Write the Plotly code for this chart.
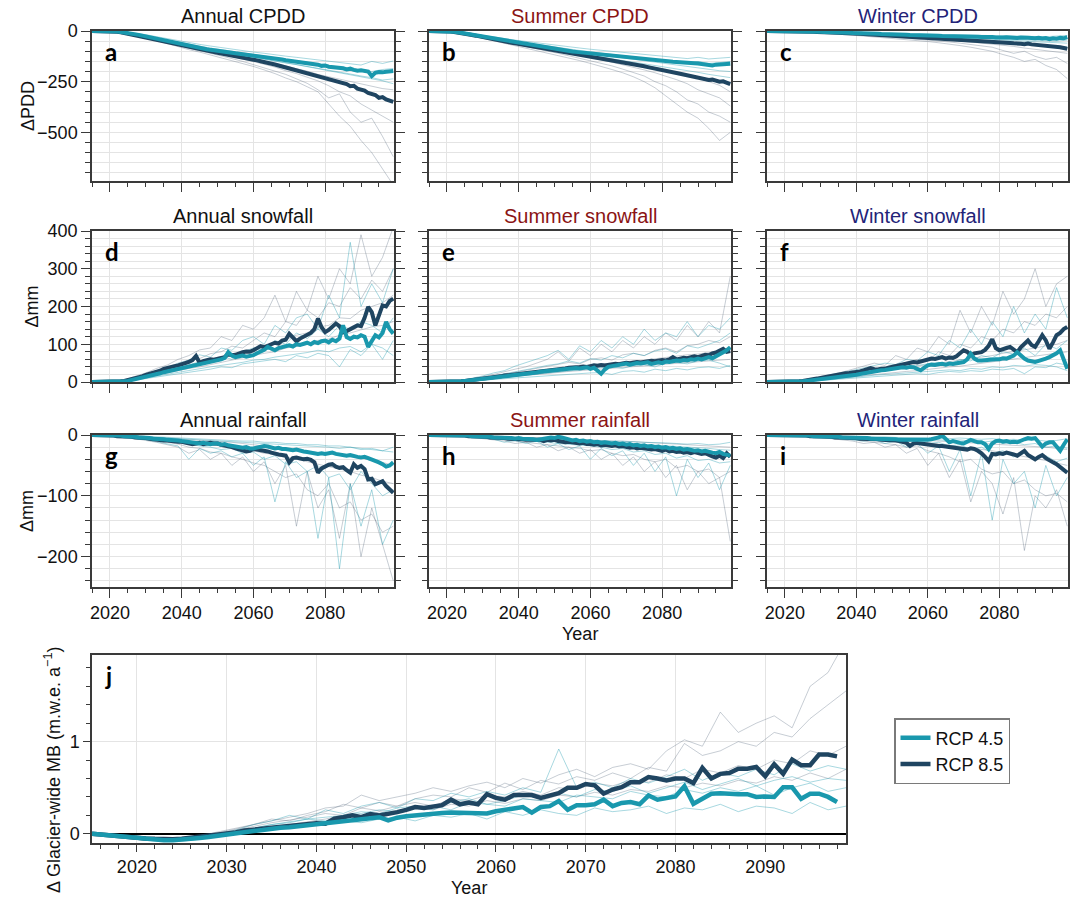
import plotly.graph_objects as go

# ---------------------------------------------------------------------------
# Time axes
# ---------------------------------------------------------------------------
YEARS = list(range(2015, 2100))             # ensemble means, panels a-i
MEMBER_YEARS = list(range(2015, 2100, 3))   # individual model runs, panels a-i
MB_YEARS = list(range(2015, 2099))          # ensemble means, panel j
MB_MEMBER_YEARS = list(range(2015, 2100, 2))  # individual model runs, panel j

# ---------------------------------------------------------------------------
# a: Annual CPDD
# ---------------------------------------------------------------------------
annual_cpdd_rcp45 = [
    0, 0, 0, 0, 0, -1, -2, -3, -5, -7,
    -10, -13, -16, -19, -23, -27, -31, -35, -39, -43,
    -47, -51, -55, -59, -63, -67, -71, -74, -78, -81,
    -84, -87, -90, -93, -96, -98, -101, -103, -106, -108,
    -110, -112, -114, -117, -119, -121, -124, -126, -129, -131,
    -134, -136, -139, -141, -144, -146, -149, -151, -153, -156,
    -158, -161, -163, -166, -172, -170, -176, -178, -182, -180,
    -184, -190, -186, -192, -196, -194, -198, -200, -222, -206,
    -202, -204, -201, -199, -197]
annual_cpdd_rcp85 = [
    0, 0, 0, 0, 0, -1, -2, -4, -6, -9,
    -12, -16, -20, -24, -28, -32, -36, -40, -44, -49,
    -53, -57, -61, -65, -69, -73, -77, -81, -85, -88,
    -91, -95, -98, -101, -104, -107, -110, -113, -116, -119,
    -122, -126, -129, -133, -137, -141, -145, -149, -152, -156,
    -160, -165, -170, -175, -180, -185, -189, -193, -197, -202,
    -207, -212, -217, -222, -226, -231, -236, -241, -247, -252,
    -258, -262, -272, -270, -284, -290, -294, -306, -312, -316,
    -330, -326, -338, -344, -350]
annual_cpdd_rcp45_members = [
    [0, 0, -2, -8, -17, -28, -40, -52, -64, -74, -84, -94, -102, -112, -120,
     -130, -140, -148, -158, -166, -176, -186, -194, -206, -214, -224, -236, -246, -260],
    [0, 0, -1, -5, -12, -22, -33, -44, -55, -65, -75, -84, -92, -100, -108,
     -116, -124, -132, -140, -146, -156, -162, -170, -178, -184, -192, -200, -190, -185],
    [0, 0, -1, -4, -10, -18, -28, -38, -48, -57, -66, -74, -82, -90, -96,
     -104, -110, -118, -124, -130, -136, -142, -150, -156, -162, -168, -150, -160, -148],
    [0, 0, -2, -7, -15, -26, -38, -50, -62, -72, -82, -92, -101, -110, -119,
     -128, -137, -146, -156, -164, -174, -184, -192, -202, -212, -222, -230, -242, -236],
]
annual_cpdd_rcp85_members = [
    [0, 0, -3, -10, -22, -35, -48, -62, -78, -92, -104, -118, -130, -146, -160,
     -175, -192, -210, -232, -250, -275, -300, -360, -420, -470, -540, -600, -680, -760],
    [0, 0, -2, -8, -18, -30, -44, -58, -70, -84, -98, -110, -122, -136, -150,
     -166, -180, -198, -214, -236, -258, -290, -330, -310, -400, -450, -430, -520, -620],
    [0, 0, -2, -7, -16, -27, -40, -52, -64, -76, -88, -99, -110, -124, -138,
     -150, -164, -178, -196, -210, -228, -246, -270, -300, -320, -360, -390, -420, -450],
    [0, 0, -1, -6, -14, -24, -36, -48, -60, -72, -82, -93, -104, -115, -126,
     -138, -150, -160, -172, -186, -198, -214, -226, -238, -250, -262, -272, -284, -290],
]

# ---------------------------------------------------------------------------
# b: Summer CPDD
# ---------------------------------------------------------------------------
summer_cpdd_rcp45 = [
    0, 0, 0, 0, 0, -1, -2, -4, -6, -9,
    -12, -15, -18, -21, -25, -28, -32, -35, -39, -42,
    -45, -48, -52, -55, -58, -61, -64, -67, -70, -73,
    -76, -79, -82, -84, -87, -89, -92, -94, -96, -99,
    -101, -103, -105, -107, -109, -111, -113, -115, -117, -119,
    -121, -123, -125, -127, -129, -131, -133, -135, -137, -138,
    -140, -141, -143, -145, -146, -148, -149, -151, -152, -153,
    -155, -156, -157, -158, -159, -160, -162, -163, -165, -170,
    -166, -165, -167, -164, -161]
summer_cpdd_rcp85 = [
    0, 0, 0, 0, 0, -1, -3, -5, -7, -10,
    -13, -16, -20, -23, -27, -30, -34, -37, -41, -44,
    -48, -51, -54, -58, -61, -64, -67, -70, -73, -76,
    -79, -82, -85, -88, -91, -94, -97, -100, -103, -106,
    -109, -112, -115, -118, -121, -124, -127, -131, -134, -137,
    -140, -143, -147, -150, -153, -157, -160, -164, -167, -171,
    -174, -178, -181, -185, -188, -192, -196, -199, -203, -207,
    -211, -215, -218, -222, -226, -230, -233, -237, -242, -240,
    -245, -250, -248, -255, -262]
summer_cpdd_rcp45_members = [
    [0, 0, -3, -9, -18, -28, -38, -48, -58, -68, -77, -86, -95, -103, -112,
     -120, -128, -137, -146, -154, -162, -170, -180, -188, -196, -204, -214, -222, -230],
    [0, 0, -2, -7, -15, -24, -33, -42, -51, -59, -67, -75, -82, -89, -96,
     -103, -110, -116, -122, -128, -134, -140, -146, -152, -158, -150, -160, -156, -150],
    [0, 0, -2, -6, -13, -21, -29, -37, -45, -52, -59, -66, -72, -78, -84,
     -90, -95, -100, -106, -111, -116, -121, -126, -131, -136, -130, -138, -134, -130],
    [0, 0, -3, -8, -17, -26, -36, -45, -54, -63, -72, -80, -88, -96, -104,
     -111, -119, -126, -134, -140, -148, -155, -162, -168, -176, -184, -190, -196, -200],
]
summer_cpdd_rcp85_members = [
    [0, 0, -4, -12, -24, -36, -48, -60, -72, -84, -96, -108, -120, -132, -146,
     -160, -174, -190, -206, -226, -250, -280, -320, -360, -400, -430, -480, -540, -500],
    [0, 0, -3, -10, -20, -32, -43, -54, -66, -77, -88, -99, -110, -122, -134,
     -146, -160, -172, -188, -204, -222, -250, -270, -300, -340, -360, -400, -420, -450],
    [0, 0, -3, -9, -18, -28, -38, -49, -59, -69, -79, -89, -99, -110, -120,
     -131, -142, -154, -166, -180, -192, -206, -222, -240, -260, -290, -310, -330, -370],
    [0, 0, -2, -8, -16, -26, -35, -45, -54, -64, -73, -82, -91, -100, -109,
     -118, -128, -138, -148, -158, -168, -180, -192, -206, -220, -232, -250, -268, -300],
]

# ---------------------------------------------------------------------------
# c: Winter CPDD
# ---------------------------------------------------------------------------
winter_cpdd_rcp45 = [
    0, 0, 0, 0, 0, 0, 0, 0, -1, -1,
    -1, -2, -2, -3, -3, -4, -5, -5, -6, -6,
    -7, -8, -8, -9, -10, -10, -11, -12, -12, -13,
    -13, -14, -15, -15, -16, -17, -17, -18, -18, -19,
    -20, -20, -21, -22, -22, -23, -23, -24, -23, -25,
    -25, -26, -25, -27, -27, -26, -28, -27, -29, -28,
    -30, -29, -31, -30, -32, -30, -32, -31, -33, -32,
    -34, -32, -35, -33, -34, -36, -33, -37, -35, -40,
    -36, -38, -34, -36, -30]
winter_cpdd_rcp85 = [
    0, 0, 0, 0, 0, 0, 0, -1, -1, -2,
    -2, -3, -3, -4, -5, -5, -6, -7, -7, -8,
    -9, -10, -10, -11, -12, -13, -14, -15, -16, -17,
    -18, -19, -20, -21, -22, -23, -24, -25, -26, -27,
    -28, -30, -29, -31, -33, -34, -33, -36, -37, -38,
    -40, -39, -42, -43, -42, -45, -46, -44, -48, -49,
    -50, -49, -52, -54, -52, -55, -57, -56, -59, -61,
    -60, -63, -65, -62, -66, -68, -67, -70, -72, -74,
    -73, -76, -80, -84, -88]
winter_cpdd_rcp45_members = [
    [0, 0, -1, -2, -4, -7, -10, -13, -16, -19, -22, -25, -28, -31, -34,
     -37, -40, -43, -46, -49, -52, -55, -58, -62, -65, -68, -72, -75, -78],
    [0, 0, 0, -1, -3, -5, -7, -9, -11, -13, -15, -17, -19, -21, -23,
     -25, -27, -29, -31, -33, -35, -37, -39, -41, -44, -46, -48, -50, -45],
    [0, 0, 0, -1, -2, -3, -4, -6, -7, -9, -10, -11, -13, -14, -15,
     -16, -18, -19, -20, -21, -22, -23, -25, -24, -26, -27, -28, -25, -22],
    [0, 0, -1, -2, -3, -5, -7, -9, -11, -14, -16, -18, -20, -23, -25,
     -27, -30, -32, -35, -37, -40, -42, -45, -47, -50, -53, -56, -58, -60],
]
winter_cpdd_rcp85_members = [
    [0, 0, -1, -3, -6, -9, -13, -17, -21, -25, -29, -33, -37, -42, -47,
     -52, -58, -64, -72, -80, -90, -100, -116, -130, -150, -140, -170, -190, -235],
    [0, 0, -1, -2, -5, -8, -11, -14, -18, -21, -25, -28, -32, -36, -40,
     -44, -49, -54, -60, -66, -72, -80, -96, -110, -100, -125, -140, -130, -160],
    [0, 0, 0, -2, -4, -6, -9, -12, -15, -18, -21, -24, -27, -30, -34,
     -37, -41, -45, -49, -54, -58, -64, -70, -76, -84, -90, -96, -104, -110],
    [0, 0, 0, -1, -3, -5, -7, -9, -12, -14, -17, -19, -22, -25, -27,
     -30, -33, -36, -39, -42, -46, -49, -53, -57, -61, -65, -69, -74, -80],
]

# ---------------------------------------------------------------------------
# d: Annual snowfall
# ---------------------------------------------------------------------------
annual_snow_rcp45 = [
    0, 0, 0, 0, 0, 0, 0, 1, 1, 2,
    3, 5, 7, 9, 11, 13, 16, 18, 21, 23,
    26, 28, 30, 33, 35, 37, 40, 42, 44, 46,
    48, 50, 52, 54, 56, 57, 60, 64, 79, 70,
    66, 68, 70, 67, 69, 71, 76, 80, 85, 93,
    88, 84, 90, 92, 95, 97, 94, 100, 98, 102,
    104, 100, 106, 103, 108, 110, 105, 112, 108, 115,
    150, 119, 114, 120, 118, 124, 120, 93, 110, 124,
    118, 130, 159, 140, 128]
annual_snow_rcp85 = [
    0, 0, 0, 0, 0, 0, 1, 1, 2, 3,
    5, 7, 9, 12, 15, 19, 22, 24, 26, 30,
    35, 38, 40, 42, 44, 46, 50, 53, 58, 69,
    51, 55, 57, 60, 59, 62, 64, 66, 74, 71,
    72, 76, 79, 81, 80, 84, 90, 95, 92, 97,
    100, 104, 102, 110, 112, 128, 118, 108, 115, 120,
    124, 130, 140, 168, 145, 132, 138, 145, 155, 148,
    132, 135, 140, 145, 150, 148, 170, 199, 185, 150,
    180, 203, 200, 215, 221]
annual_snow_rcp45_members = [
    [0, 0, 2, 5, 12, 20, 30, 38, 50, 58, 72, 66, 90, 84, 110,
     120, 100, 150, 130, 170, 180, 140, 230, 170, 370, 200, 260, 210, 300],
    [0, 0, 1, 4, 9, 16, 24, 30, 38, 46, 52, 60, 68, 60, 80,
     90, 84, 110, 100, 130, 115, 140, 120, 150, 140, 160, 150, 130, 170],
    [0, 0, 1, 3, 6, 11, 16, 22, 27, 32, 36, 40, 44, 48, 52,
     58, 60, 66, 70, 74, 78, 84, 80, 90, 94, 80, 100, 90, 70],
    [0, 0, 1, 2, 5, 9, 14, 18, 22, 26, 30, 34, 40, 38, 48,
     52, 56, 60, 54, 70, 64, 76, 70, 40, 86, 70, 100, 60, 110],
]
annual_snow_rcp85_members = [
    [0, 0, 2, 6, 14, 24, 36, 45, 60, 70, 85, 90, 120, 110, 150,
     140, 170, 230, 160, 240, 190, 280, 220, 300, 260, 390, 280, 330, 410],
    [0, 0, 1, 4, 10, 18, 28, 36, 44, 58, 62, 75, 80, 95, 90,
     110, 130, 120, 160, 150, 190, 170, 210, 200, 250, 220, 270, 240, 300],
    [0, 0, 1, 3, 8, 15, 22, 30, 38, 44, 52, 58, 66, 72, 80,
     86, 96, 104, 112, 124, 130, 146, 150, 170, 168, 190, 200, 210, 230],
    [0, 0, 1, 3, 7, 12, 18, 24, 30, 36, 40, 46, 52, 58, 62,
     70, 76, 80, 90, 94, 100, 110, 114, 124, 130, 138, 146, 150, 160],
]

# ---------------------------------------------------------------------------
# e: Summer snowfall
# ---------------------------------------------------------------------------
summer_snow_rcp45 = [
    0, 0, 0, 0, 0, 0, 0, 0, 1, 2,
    3, 4, 5, 6, 7, 8, 10, 11, 12, 13,
    14, 15, 16, 17, 18, 19, 20, 22, 23, 24,
    25, 27, 28, 29, 30, 31, 33, 32, 34, 35,
    36, 37, 36, 38, 39, 35, 38, 30, 22, 33,
    40, 42, 44, 45, 47, 49, 46, 48, 50, 49,
    50, 52, 48, 51, 52, 50, 54, 53, 55, 57,
    56, 58, 57, 60, 59, 62, 60, 64, 66, 63,
    68, 72, 78, 84, 92]
summer_snow_rcp85 = [
    0, 0, 0, 0, 0, 0, 0, 0, 1, 2,
    3, 4, 5, 6, 8, 9, 10, 12, 13, 14,
    15, 17, 18, 19, 20, 21, 22, 24, 25, 26,
    27, 28, 30, 31, 32, 33, 34, 35, 36, 38,
    38, 39, 40, 41, 40, 42, 44, 43, 45, 44,
    46, 47, 48, 47, 50, 51, 50, 52, 53, 52,
    54, 55, 56, 55, 57, 58, 57, 60, 66, 60,
    62, 64, 63, 66, 68, 66, 70, 72, 71, 76,
    78, 84, 88, 80, 82]
summer_snow_rcp45_members = [
    [0, 0, 1, 4, 9, 16, 24, 30, 42, 52, 60, 70, 84, 60, 96,
     80, 110, 90, 120, 100, 140, 110, 130, 120, 160, 120, 150, 140, 170],
    [0, 0, 1, 3, 6, 11, 16, 22, 26, 32, 38, 44, 48, 56, 50,
     62, 58, 70, 64, 76, 70, 82, 88, 76, 96, 90, 100, 110, 130],
    [0, 0, 0, 2, 4, 7, 10, 13, 16, 19, 22, 25, 28, 30, 33,
     35, 38, 40, 36, 44, 46, 40, 50, 52, 48, 56, 58, 50, 40],
    [0, 0, 0, 1, 3, 5, 7, 9, 11, 13, 15, 17, 19, 20, 22,
     24, 25, 20, 28, 30, 26, 34, 30, 36, 32, 38, 40, 36, 44],
]
summer_snow_rcp85_members = [
    [0, 0, 1, 4, 8, 14, 20, 26, 34, 40, 50, 60, 80, 55, 90,
     70, 100, 80, 110, 90, 120, 100, 130, 110, 150, 120, 160, 130, 280],
    [0, 0, 1, 3, 6, 10, 15, 20, 25, 30, 36, 40, 46, 52, 48,
     60, 64, 58, 72, 76, 70, 84, 90, 80, 96, 100, 110, 104, 120],
    [0, 0, 1, 2, 5, 8, 12, 16, 20, 24, 28, 32, 34, 38, 40,
     44, 48, 50, 54, 56, 58, 62, 64, 68, 72, 74, 78, 82, 86],
    [0, 0, 0, 2, 4, 6, 9, 12, 15, 18, 20, 22, 25, 28, 30,
     32, 34, 36, 38, 40, 42, 44, 46, 48, 50, 52, 54, 56, 60],
]

# ---------------------------------------------------------------------------
# f: Winter snowfall
# ---------------------------------------------------------------------------
winter_snow_rcp45 = [
    0, 0, 0, 0, 0, 0, 0, 0, 1, 1,
    2, 3, 4, 5, 6, 8, 9, 10, 12, 13,
    14, 15, 16, 17, 18, 19, 21, 23, 24, 26,
    27, 29, 31, 32, 34, 35, 37, 38, 39, 38,
    40, 39, 35, 31, 38, 44, 46, 45, 47, 48,
    46, 49, 48, 50, 52, 53, 60, 75, 62, 57,
    57, 58, 60, 59, 60, 60, 63, 62, 66, 70,
    79, 70, 62, 57, 55, 53, 56, 58, 62, 66,
    71, 76, 84, 60, 35]
winter_snow_rcp85 = [
    0, 0, 0, 0, 0, 0, 0, 1, 1, 2,
    3, 4, 5, 7, 9, 11, 13, 15, 17, 19,
    21, 22, 23, 24, 25, 26, 28, 31, 33, 37,
    34, 33, 35, 35, 38, 40, 42, 44, 46, 48,
    51, 53, 52, 55, 58, 60, 62, 61, 63, 66,
    62, 65, 64, 68, 76, 84, 80, 71, 76, 78,
    79, 85, 96, 113, 90, 84, 88, 90, 93, 86,
    79, 92, 100, 110, 98, 93, 108, 124, 110, 88,
    105, 124, 130, 140, 146]
winter_snow_rcp45_members = [
    [0, 0, 1, 3, 7, 12, 18, 24, 30, 36, 42, 50, 46, 60, 56,
     80, 70, 110, 90, 140, 100, 160, 120, 200, 130, 180, 140, 250, 170],
    [0, 0, 0, 2, 5, 9, 13, 17, 21, 25, 29, 33, 38, 36, 44,
     48, 52, 46, 60, 56, 70, 64, 80, 74, 90, 70, 100, 88, 110],
    [0, 0, 0, 1, 3, 5, 8, 10, 13, 15, 18, 20, 22, 24, 26,
     28, 30, 32, 30, 36, 34, 40, 38, 44, 42, 46, 44, 40, 30],
    [0, 0, 0, 1, 2, 4, 6, 8, 10, 12, 14, 16, 18, 20, 22,
     20, 25, 28, 26, 30, 28, 34, 32, 36, 22, 40, 38, 50, 45],
]
winter_snow_rcp85_members = [
    [0, 0, 1, 3, 8, 14, 20, 26, 34, 40, 50, 44, 70, 60, 90,
     80, 120, 100, 190, 130, 200, 150, 240, 180, 220, 300, 200, 260, 280],
    [0, 0, 1, 2, 6, 10, 15, 20, 24, 30, 34, 40, 46, 52, 60,
     56, 80, 70, 100, 90, 120, 110, 140, 130, 160, 150, 180, 170, 200],
    [0, 0, 0, 2, 4, 7, 11, 15, 18, 22, 26, 30, 33, 36, 40,
     44, 48, 52, 56, 60, 66, 70, 76, 80, 86, 90, 96, 100, 110],
    [0, 0, 0, 1, 3, 5, 8, 11, 14, 17, 20, 22, 25, 28, 30,
     34, 36, 40, 42, 46, 50, 54, 56, 60, 64, 68, 72, 76, 80],
]

# ---------------------------------------------------------------------------
# g: Annual rainfall
# ---------------------------------------------------------------------------
annual_rain_rcp45 = [
    0, 0, 0, 0, 0, 0, -1, -1, -1, -2,
    -2, -3, -3, -4, -4, -5, -5, -6, -6, -7,
    -7, -8, -8, -9, -9, -10, -11, -12, -12, -13,
    -14, -13, -14, -15, -14, -14, -16, -15, -17, -18,
    -18, -19, -21, -20, -22, -22, -21, -20, -18, -19,
    -20, -22, -21, -23, -23, -24, -25, -24, -26, -27,
    -28, -29, -30, -31, -30, -31, -30, -29, -31, -32,
    -33, -34, -33, -35, -36, -37, -36, -38, -40, -42,
    -45, -48, -52, -50, -45]
annual_rain_rcp85 = [
    0, 0, 0, 0, 0, -1, -1, -2, -2, -3,
    -3, -3, -4, -4, -5, -5, -6, -7, -7, -8,
    -9, -9, -10, -10, -11, -11, -12, -14, -15, -14,
    -13, -15, -14, -13, -14, -14, -16, -17, -18, -20,
    -22, -24, -25, -27, -26, -23, -24, -25, -25, -27,
    -29, -31, -32, -33, -34, -45, -38, -37, -38, -40,
    -39, -41, -45, -62, -55, -51, -49, -48, -52, -54,
    -53, -58, -62, -48, -54, -51, -56, -73, -72, -81,
    -78, -76, -84, -90, -95]
annual_rain_rcp45_members = [
    [0, 0, -1, -3, -5, -8, -11, -14, -18, -40, -22, -30, -26, -36, -30,
     -50, -36, -110, -44, -70, -60, -170, -70, -220, -80, -150, -90, -180, -140],
    [0, 0, -1, -2, -4, -6, -8, -10, -12, -15, -18, -20, -24, -22, -30,
     -28, -40, -34, -48, -44, -60, -50, -70, -64, -90, -60, -80, -100, -90],
    [0, 0, 0, -1, -2, -3, -4, -5, -6, -7, -8, -9, -10, -11, -12,
     -13, -14, -15, -16, -17, -18, -19, -20, -22, -20, -24, -22, -26, -20],
    [0, 0, 0, -1, -1, -2, -3, -4, -5, -6, -6, -7, -8, -9, -10,
     -10, -12, -12, -14, -14, -16, -16, -18, -18, -20, -22, -24, -26, -28],
]
annual_rain_rcp85_members = [
    [0, 0, -1, -3, -6, -8, -12, -16, -20, -30, -24, -40, -30, -50, -36,
     -60, -44, -80, -50, -150, -60, -120, -90, -170, -80, -200, -120, -180, -240],
    [0, 0, -1, -2, -4, -6, -9, -12, -15, -20, -22, -28, -30, -36, -40,
     -46, -50, -60, -70, -64, -90, -100, -80, -120, -110, -140, -130, -160, -150],
    [0, 0, 0, -1, -3, -4, -6, -8, -10, -12, -14, -16, -18, -20, -24,
     -26, -30, -32, -36, -40, -44, -48, -52, -56, -60, -66, -70, -76, -80],
    [0, 0, 0, -1, -2, -3, -4, -5, -6, -7, -8, -10, -11, -12, -14,
     -16, -18, -20, -22, -24, -26, -28, -30, -33, -36, -38, -42, -45, -50],
]

# ---------------------------------------------------------------------------
# h: Summer rainfall
# ---------------------------------------------------------------------------
summer_rain_rcp45 = [
    0, 0, 0, 0, 0, 0, 0, 0, -1, -1,
    -1, -1, -2, -2, -2, -3, -3, -3, -4, -4,
    -4, -5, -5, -5, -6, -5, -6, -6, -7, -7,
    -8, -7, -6, -5, -4, -5, -3, -4, -6, -8,
    -9, -8, -10, -9, -11, -10, -12, -11, -13, -12,
    -13, -14, -13, -15, -14, -16, -15, -17, -16, -18,
    -17, -19, -18, -20, -19, -21, -20, -22, -21, -23,
    -22, -24, -23, -25, -26, -25, -27, -26, -28, -29,
    -30, -28, -31, -32, -34]
summer_rain_rcp85 = [
    0, 0, 0, 0, 0, 0, 0, -1, -1, -1,
    -1, -2, -2, -2, -3, -3, -3, -4, -4, -5,
    -5, -5, -6, -6, -7, -7, -7, -8, -8, -8,
    -9, -8, -10, -8, -9, -8, -10, -11, -12, -11,
    -12, -13, -14, -13, -15, -15, -16, -15, -17, -16,
    -17, -18, -17, -19, -18, -19, -21, -20, -22, -21,
    -22, -23, -24, -23, -25, -26, -24, -27, -26, -28,
    -27, -29, -28, -30, -28, -29, -31, -30, -33, -35,
    -37, -34, -38, -30, -36]
summer_rain_rcp45_members = [
    [0, 0, -1, -2, -3, -5, -7, -12, -9, -14, -10, -20, -14, -24, -18,
     -40, -22, -34, -26, -50, -30, -60, -36, -100, -40, -70, -46, -90, -50],
    [0, 0, 0, -1, -2, -3, -5, -6, -8, -9, -11, -12, -14, -15, -17,
     -18, -20, -24, -22, -28, -26, -32, -30, -38, -34, -42, -40, -46, -44],
    [0, 0, 0, 0, -1, -2, -2, -3, -4, -4, -5, -6, -6, -7, -8,
     -8, -9, -10, -10, -11, -12, -12, -13, -14, -15, -14, -16, -15, -12],
    [0, 0, 0, -1, -1, -2, -3, -3, -4, -5, -6, -6, -7, -8, -9,
     -10, -11, -12, -13, -14, -15, -16, -17, -18, -19, -20, -22, -24, -25],
]
summer_rain_rcp85_members = [
    [0, 0, -1, -2, -4, -6, -8, -10, -14, -12, -20, -16, -26, -20, -30,
     -24, -40, -30, -50, -36, -60, -44, -70, -50, -90, -60, -80, -70, -175],
    [0, 0, 0, -1, -3, -4, -6, -8, -10, -12, -14, -16, -18, -20, -22,
     -26, -24, -30, -34, -32, -40, -44, -40, -54, -50, -60, -56, -70, -60],
    [0, 0, 0, -1, -2, -3, -4, -5, -6, -7, -8, -9, -10, -11, -12,
     -13, -14, -15, -16, -17, -18, -19, -20, -22, -24, -26, -28, -30, -32],
    [0, 0, 0, 0, -1, -1, -2, -3, -3, -4, -5, -5, -6, -7, -7,
     -8, -9, -10, -10, -11, -12, -13, -14, -15, -16, -17, -18, -19, -20],
]

# ---------------------------------------------------------------------------
# i: Winter rainfall
# ---------------------------------------------------------------------------
winter_rain_rcp45 = [
    0, 0, 0, 0, 0, 0, 0, 0, 0, -1,
    -1, -1, -1, -2, -2, -2, -2, -3, -3, -3,
    -3, -4, -4, -4, -4, -4, -5, -5, -5, -6,
    -6, -6, -6, -7, -7, -7, -7, -8, -8, -8,
    -9, -8, -9, -8, -8, -8, -7, -6, -4, -1,
    -6, -12, -10, -12, -13, -14, -11, -8, -10, -12,
    -12, -15, -23, -14, -10, -9, -11, -10, -12, -11,
    -12, -9, -7, -5, -6, -5, -12, -19, -14, -12,
    -12, -18, -26, -16, -7]
winter_rain_rcp85 = [
    0, 0, 0, 0, 0, 0, 0, 0, -1, -1,
    -1, -1, -2, -2, -2, -3, -3, -3, -3, -4,
    -4, -4, -4, -5, -5, -5, -6, -6, -6, -7,
    -7, -7, -8, -8, -8, -9, -9, -10, -11, -13,
    -18, -14, -13, -14, -15, -15, -16, -17, -18, -18,
    -19, -20, -21, -22, -22, -23, -24, -22, -23, -26,
    -30, -36, -43, -31, -32, -30, -31, -29, -30, -32,
    -34, -30, -26, -33, -37, -40, -36, -33, -38, -42,
    -45, -48, -52, -58, -62]
winter_rain_rcp45_members = [
    [0, 0, 0, -1, -2, -3, -4, -6, -8, -10, -8, -14, -10, -20, -14,
     -30, -18, -60, -24, -100, -30, -140, -40, -80, -60, -120, -50, -100, -70],
    [0, 0, 0, -1, -1, -2, -3, -4, -5, -6, -7, -8, -10, -9, -12,
     -14, -12, -18, -16, -24, -20, -30, -26, -36, -30, -40, -34, -44, -38],
    [0, 0, 0, 0, -1, -1, -1, -2, -2, -3, -3, -3, -4, -4, -4,
     -5, -5, -6, -5, -6, -7, -6, -8, -7, -9, -8, -10, -9, -6],
    [0, 0, 0, 0, -1, -1, -2, -2, -3, -3, -4, -4, -5, -6, -6,
     -7, -8, -9, -8, -10, -12, -10, -14, -12, -16, -14, -20, -18, -22],
]
winter_rain_rcp85_members = [
    [0, 0, 0, -1, -2, -4, -6, -8, -10, -14, -12, -20, -16, -30, -22,
     -50, -30, -70, -40, -110, -60, -80, -130, -70, -190, -100, -120, -90, -150],
    [0, 0, 0, -1, -2, -3, -5, -6, -8, -10, -12, -14, -16, -20, -18,
     -26, -30, -36, -44, -40, -56, -64, -60, -80, -74, -90, -100, -96, -110],
    [0, 0, 0, -1, -1, -2, -3, -4, -5, -6, -7, -8, -9, -10, -12,
     -13, -15, -17, -19, -21, -24, -26, -29, -32, -35, -38, -42, -46, -50],
    [0, 0, 0, 0, -1, -1, -2, -2, -3, -3, -4, -5, -5, -6, -7,
     -8, -9, -10, -11, -12, -13, -14, -15, -16, -18, -19, -20, -22, -24],
]

# ---------------------------------------------------------------------------
# j: Glacier-wide mass balance change (m w.e. a-1)
# ---------------------------------------------------------------------------
mb_rcp45 = [
    0.0, -0.01, -0.02, -0.03, -0.04, -0.045, -0.055, -0.065, -0.07, -0.07,
    -0.065, -0.055, -0.045, -0.035, -0.02, -0.01, 0.005, 0.02, 0.03, 0.04,
    0.055, 0.065, 0.07, 0.08, 0.09, 0.1, 0.11, 0.125, 0.14, 0.15,
    0.16, 0.17, 0.18, 0.145, 0.175, 0.19, 0.2, 0.215, 0.22, 0.225,
    0.23, 0.23, 0.23, 0.225, 0.22, 0.245, 0.26, 0.27, 0.29, 0.23,
    0.29, 0.3, 0.355, 0.26, 0.31, 0.31, 0.32, 0.37, 0.3, 0.335,
    0.345, 0.32, 0.415, 0.37, 0.39, 0.405, 0.515, 0.325, 0.38, 0.435,
    0.44, 0.43, 0.43, 0.43, 0.4, 0.405, 0.4, 0.505, 0.505, 0.38,
    0.435, 0.435, 0.4, 0.345]
mb_rcp85 = [
    0.0, -0.01, -0.02, -0.03, -0.035, -0.04, -0.05, -0.055, -0.06, -0.06,
    -0.055, -0.045, -0.035, -0.025, -0.01, 0.0, 0.015, 0.035, 0.045, 0.06,
    0.07, 0.08, 0.095, 0.1, 0.11, 0.115, 0.11, 0.165, 0.18, 0.2,
    0.18, 0.215, 0.2, 0.215, 0.235, 0.26, 0.29, 0.28, 0.3, 0.31,
    0.37, 0.32, 0.34, 0.32, 0.43, 0.39, 0.37, 0.42, 0.42, 0.42,
    0.39, 0.42, 0.44, 0.5, 0.5, 0.54, 0.525, 0.435, 0.48, 0.505,
    0.56, 0.56, 0.615, 0.6, 0.58, 0.6, 0.6, 0.55, 0.715, 0.6,
    0.65, 0.66, 0.705, 0.705, 0.725, 0.625, 0.755, 0.65, 0.805, 0.745,
    0.745, 0.86, 0.86, 0.84]
mb_rcp45_members = [
    [0.0, -0.02, -0.05, -0.07, -0.08, -0.07, -0.04, 0.0, 0.04, 0.1,
     0.14, 0.2, 0.16, 0.26, 0.22, 0.3, 0.34, 0.28, 0.38, 0.36,
     0.44, 0.4, 0.46, 0.42, 0.5, 0.45, 0.92, 0.5, 0.56, 0.5,
     0.6, 0.55, 0.62, 0.7, 0.58, 0.66, 0.62, 0.7, 0.64, 0.76,
     0.68, 0.74, 0.7],
    [0.0, -0.01, -0.04, -0.06, -0.07, -0.06, -0.04, -0.01, 0.02, 0.06,
     0.1, 0.12, 0.16, 0.18, 0.2, 0.22, 0.26, 0.24, 0.28, 0.3,
     0.26, 0.34, 0.32, 0.3, 0.38, 0.36, 0.34, 0.42, 0.4, 0.38,
     0.46, 0.42, 0.4, 0.48, 0.44, 0.5, 0.46, 0.52, 0.42, 0.5,
     0.55, 0.46, 0.5],
    [0.0, -0.02, -0.04, -0.06, -0.08, -0.08, -0.06, -0.03, 0.0, 0.03,
     0.06, 0.08, 0.1, 0.12, 0.14, 0.12, 0.16, 0.18, 0.14, 0.2,
     0.18, 0.22, 0.16, 0.24, 0.2, 0.26, 0.22, 0.2, 0.28, 0.24,
     0.26, 0.3, 0.22, 0.28, 0.26, 0.32, 0.24, 0.3, 0.28, 0.22,
     0.34, 0.26, 0.3],
    [0.0, -0.01, -0.03, -0.05, -0.06, -0.05, -0.03, 0.0, 0.03, 0.06,
     0.1, 0.13, 0.16, 0.14, 0.2, 0.24, 0.22, 0.28, 0.3, 0.26,
     0.34, 0.38, 0.32, 0.36, 0.42, 0.38, 0.44, 0.4, 0.48, 0.46,
     0.52, 0.44, 0.5, 0.56, 0.48, 0.54, 0.6, 0.52, 0.58, 0.62,
     0.56, 0.6, 0.58],
]
mb_rcp85_members = [
    [0.0, -0.02, -0.05, -0.07, -0.08, -0.06, -0.03, 0.01, 0.05, 0.1,
     0.14, 0.18, 0.22, 0.28, 0.3, 0.42, 0.36, 0.4, 0.44, 0.5,
     0.46, 0.52, 0.56, 0.5, 0.6, 0.55, 0.64, 0.7, 0.62, 0.72,
     0.76, 0.7, 0.9, 1.02, 0.95, 1.32, 1.1, 1.2, 1.28, 1.15,
     1.6, 1.75, 2.1],
    [0.0, -0.01, -0.04, -0.06, -0.07, -0.05, -0.02, 0.02, 0.06, 0.1,
     0.16, 0.14, 0.2, 0.24, 0.32, 0.28, 0.34, 0.3, 0.38, 0.42,
     0.4, 0.5, 0.45, 0.55, 0.48, 0.58, 0.54, 0.62, 0.58, 0.66,
     0.6, 0.72, 0.68, 0.98, 0.85, 0.9, 1.0, 0.95, 1.1, 1.05,
     1.25, 1.4, 1.55],
    [0.0, -0.02, -0.04, -0.05, -0.06, -0.05, -0.03, 0.0, 0.04, 0.08,
     0.12, 0.15, 0.18, 0.22, 0.2, 0.28, 0.25, 0.3, 0.34, 0.3,
     0.38, 0.36, 0.42, 0.4, 0.46, 0.42, 0.5, 0.48, 0.55, 0.52,
     0.58, 0.56, 0.64, 0.6, 0.7, 0.66, 0.74, 0.7, 0.8, 0.76,
     0.9, 0.85, 0.95],
    [0.0, -0.01, -0.03, -0.05, -0.06, -0.06, -0.04, -0.02, 0.02, 0.05,
     0.08, 0.1, 0.13, 0.16, 0.2, 0.17, 0.24, 0.22, 0.28, 0.26,
     0.32, 0.3, 0.36, 0.33, 0.38, 0.36, 0.42, 0.4, 0.45, 0.42,
     0.48, 0.46, 0.52, 0.5, 0.55, 0.52, 0.58, 0.55, 0.62, 0.58,
     0.66, 0.6, 0.7],
]

# ---------------------------------------------------------------------------
# Panel titles, letters and label text
# ---------------------------------------------------------------------------
panel_letters = ["a", "b", "c", "d", "e", "f", "g", "h", "i", "j"]
panel_titles = ["Annual CPDD", "Summer CPDD", "Winter CPDD",
                "Annual snowfall", "Summer snowfall", "Winter snowfall",
                "Annual rainfall", "Summer rainfall", "Winter rainfall"]
row_ylabels = ["ΔPDD", "Δmm", "Δmm"]
scenario_names = ["RCP 4.5", "RCP 8.5"]
x_tick_years = [2020, 2040, 2060, 2080]
mb_tick_years = [2020, 2030, 2040, 2050, 2060, 2070, 2080, 2090]

# ---------------------------------------------------------------------------
# Styling
# ---------------------------------------------------------------------------
W, H = 1070, 898
FONT = "Liberation Sans, Arial, Helvetica, sans-serif"
LETTER_FONT = "Lato, Open Sans, sans-serif"
AX = "#3a3a3a"
GRID = "#e4e4e4"
C45 = "#1998ad"
C85 = "#1f4561"
C45_THIN = "rgba(25,152,173,0.38)"
C85_THIN = "rgba(70,90,112,0.30)"
TITLE_COLORS = ["#111111", "#8b1414", "#232378"]

COLS_PX = [(92, 394), (429, 731), (767, 1068)]
ROWS_PX = [(31, 181), (231, 382), (435, 587)]
J_X_PX, J_Y_PX = (92, 846), (655, 843)
Y_SPECS = [([-740, 0], 250, 50), ([0, 400], 100, 20), ([-250, 0], 100, 20)]


def xdom(px):
    return [px[0] / W, px[1] / W]


def ydom(px):
    return [1 - px[1] / H, 1 - px[0] / H]


panel_data = [
    (annual_cpdd_rcp45, annual_cpdd_rcp85, annual_cpdd_rcp45_members, annual_cpdd_rcp85_members),
    (summer_cpdd_rcp45, summer_cpdd_rcp85, summer_cpdd_rcp45_members, summer_cpdd_rcp85_members),
    (winter_cpdd_rcp45, winter_cpdd_rcp85, winter_cpdd_rcp45_members, winter_cpdd_rcp85_members),
    (annual_snow_rcp45, annual_snow_rcp85, annual_snow_rcp45_members, annual_snow_rcp85_members),
    (summer_snow_rcp45, summer_snow_rcp85, summer_snow_rcp45_members, summer_snow_rcp85_members),
    (winter_snow_rcp45, winter_snow_rcp85, winter_snow_rcp45_members, winter_snow_rcp85_members),
    (annual_rain_rcp45, annual_rain_rcp85, annual_rain_rcp45_members, annual_rain_rcp85_members),
    (summer_rain_rcp45, summer_rain_rcp85, summer_rain_rcp45_members, summer_rain_rcp85_members),
    (winter_rain_rcp45, winter_rain_rcp85, winter_rain_rcp45_members, winter_rain_rcp85_members),
]

fig = go.Figure()
layout_axes = {}
annotations = []
tick_font = dict(family=FONT, size=18, color="#111111")


def add_series(xref, yref, years, member_years, m45, m85, mem45, mem85, legend=False, width=4):
    for run in mem85:
        fig.add_trace(go.Scatter(x=member_years, y=run, mode="lines", xaxis=xref, yaxis=yref,
                                 line=dict(color=C85_THIN, width=1), showlegend=False, hoverinfo="skip"))
    for run in mem45:
        fig.add_trace(go.Scatter(x=member_years, y=run, mode="lines", xaxis=xref, yaxis=yref,
                                 line=dict(color=C45_THIN, width=1), showlegend=False, hoverinfo="skip"))
    fig.add_trace(go.Scatter(x=years, y=m85, mode="lines", xaxis=xref, yaxis=yref, name=scenario_names[1],
                             line=dict(color=C85, width=width), showlegend=legend, legendrank=2))
    fig.add_trace(go.Scatter(x=years, y=m45, mode="lines", xaxis=xref, yaxis=yref, name=scenario_names[0],
                             line=dict(color=C45, width=width), showlegend=legend, legendrank=1))


for k, (m45, m85, mem45, mem85) in enumerate(panel_data):
    r, c = divmod(k, 3)
    n = k + 1
    xname = "xaxis" if n == 1 else f"xaxis{n}"
    yname = "yaxis" if n == 1 else f"yaxis{n}"
    xref = "x" if n == 1 else f"x{n}"
    yref = "y" if n == 1 else f"y{n}"
    add_series(xref, yref, YEARS, MEMBER_YEARS, m45, m85, mem45, mem85)

    yr, ymaj, ymin = Y_SPECS[r]
    layout_axes[xname] = dict(
        domain=xdom(COLS_PX[c]), anchor=yref, range=[2015, 2099.2],
        tickmode="array", tickvals=x_tick_years, ticks="outside", ticklen=9, tickwidth=1.3,
        tickcolor=AX, showticklabels=(r == 2), tickfont=tick_font,
        minor=dict(dtick=5, tick0=2015, ticks="outside", ticklen=4, tickwidth=1, tickcolor=AX, showgrid=False),
        showgrid=True, gridcolor=GRID, gridwidth=1, showline=True, linecolor=AX, linewidth=1.5,
        mirror=True, zeroline=False, automargin=False, fixedrange=True)
    layout_axes[yname] = dict(
        domain=ydom(ROWS_PX[r]), anchor=xref, range=yr, dtick=ymaj, tick0=0,
        ticks="outside", ticklen=9, tickwidth=1.3, tickcolor=AX,
        showticklabels=(c == 0), tickfont=tick_font,
        minor=dict(dtick=ymin, tick0=0, ticks="outside", ticklen=5, tickwidth=1, tickcolor=AX,
                   showgrid=True, gridcolor=GRID, gridwidth=1),
        showgrid=True, gridcolor=GRID, gridwidth=1, showline=True, linecolor=AX, linewidth=1.5,
        mirror="allticks", zeroline=False, automargin=False, fixedrange=True)

    cx = (COLS_PX[c][0] + COLS_PX[c][1]) / 2
    annotations.append(dict(text=panel_titles[k], x=cx / W, y=1 - (ROWS_PX[r][0] - 15) / H,
                            xref="paper", yref="paper", xanchor="center", yanchor="middle", showarrow=False,
                            font=dict(family=FONT, size=20, color=TITLE_COLORS[c])))
    annotations.append(dict(text=f"<b>{panel_letters[k]}</b>", x=(COLS_PX[c][0] + 11) / W,
                            y=1 - (ROWS_PX[r][0] + 4) / H, xref="paper", yref="paper",
                            xanchor="left", yanchor="top", showarrow=False,
                            font=dict(family=LETTER_FONT, size=24, color="#000000")))

# Panel j
add_series("x10", "y10", MB_YEARS, MB_MEMBER_YEARS, mb_rcp45, mb_rcp85,
           mb_rcp45_members, mb_rcp85_members, legend=True, width=4.5)
layout_axes["xaxis10"] = dict(
    domain=xdom(J_X_PX), anchor="y10", range=[2015, 2099], tickmode="array", tickvals=mb_tick_years,
    ticks="outside", ticklen=7, tickwidth=1.3, tickcolor=AX, tickfont=tick_font,
    minor=dict(dtick=2, tick0=2016, ticks="outside", ticklen=4, tickwidth=1, tickcolor=AX, showgrid=False),
    showgrid=True, gridcolor=GRID, showline=True, linecolor=AX, linewidth=1.5, mirror=True,
    zeroline=False, automargin=False, fixedrange=True)
layout_axes["yaxis10"] = dict(
    domain=ydom(J_Y_PX), anchor="x10", range=[-0.1, 1.94], dtick=1, tick0=0,
    ticks="outside", ticklen=7, tickwidth=1.3, tickcolor=AX, tickfont=tick_font,
    minor=dict(dtick=0.2, tick0=0, ticks="outside", ticklen=4, tickwidth=1, tickcolor=AX, showgrid=False),
    showgrid=True, gridcolor=GRID, showline=True, linecolor=AX, linewidth=1.5, mirror=True,
    zeroline=True, zerolinecolor="#000000", zerolinewidth=2, automargin=False, fixedrange=True)
annotations.append(dict(text="<b>j</b>", x=(J_X_PX[0] + 11) / W, y=1 - (J_Y_PX[0] + 4) / H,
                        xref="paper", yref="paper", xanchor="left", yanchor="top", showarrow=False,
                        font=dict(family=LETTER_FONT, size=24, color="#000000")))

# Axis titles
ylabel_x = [28, 32, 27]
for r in range(3):
    yc = (ROWS_PX[r][0] + ROWS_PX[r][1]) / 2
    annotations.append(dict(text=row_ylabels[r], x=ylabel_x[r] / W, y=1 - yc / H, xref="paper", yref="paper",
                            xanchor="center", yanchor="middle", textangle=-90, showarrow=False,
                            font=dict(family=FONT, size=18, color="#111111")))
annotations.append(dict(text="Year", x=580 / W, y=1 - 634 / H, xref="paper", yref="paper",
                        xanchor="center", yanchor="middle", showarrow=False,
                        font=dict(family=FONT, size=18, color="#111111")))
annotations.append(dict(text="Year", x=469 / W, y=1 - 888 / H, xref="paper", yref="paper",
                        xanchor="center", yanchor="middle", showarrow=False,
                        font=dict(family=FONT, size=18, color="#111111")))
annotations.append(dict(text="Δ Glacier-wide MB (m.w.e. a<sup>−1</sup>)", x=52 / W, y=1 - 770 / H,
                        xref="paper", yref="paper", xanchor="center", yanchor="middle", textangle=-90,
                        showarrow=False, font=dict(family=FONT, size=18, color="#111111")))

fig.update_layout(
    width=W, height=H, margin=dict(l=0, r=0, t=0, b=0),
    paper_bgcolor="white", plot_bgcolor="white",
    font=dict(family=FONT, size=18, color="#111111"),
    annotations=annotations,
    legend=dict(x=894 / W, y=1 - 718 / H, xanchor="left", yanchor="top",
                bordercolor="#7a7a7a", borderwidth=1.5, bgcolor="white",
                font=dict(family=FONT, size=18, color="#111111"), tracegroupgap=2),
    hovermode=False,
    **layout_axes,
)

fig.write_html("out.html")
